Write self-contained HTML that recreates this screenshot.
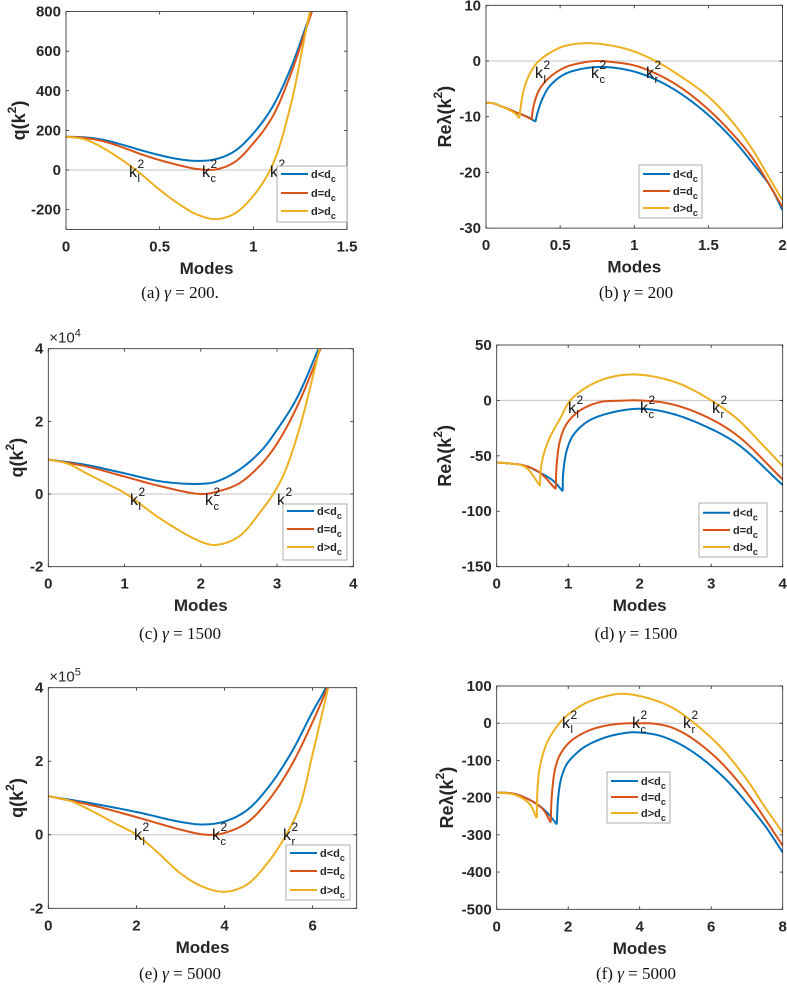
<!DOCTYPE html>
<html><head><meta charset="utf-8">
<style>
html,body{margin:0;padding:0;background:#fff;}
svg{display:block;}
</style></head>
<body>
<svg id="fig" width="787" height="985" viewBox="0 0 787 985" xmlns="http://www.w3.org/2000/svg"></svg>
<script>
// ---------- DATA ----------
// Panel (a) q(k^2), gamma=200
const aX = [0,0.1,0.2,0.3,0.4,0.5,0.6,0.7,0.8,0.9,1.0,1.1,1.2,1.3,1.35];
const aBlue = [168,165,152,128,100,75,55,46,55,95,185,315,515,775,900];
const aRed = [168,162,145,115,80,50,25,5,3,40,135,265,485,765,900];
const aYel = [168,155,110,50,-20,-100,-170,-225,-248,-220,-130,20,330,790,960];
const aYTicks = [-200,0,200,400,600,800];
const aXTicks = [0,0.5,1,1.5];
const aXTickLabels = ['0','0.5','1','1.5'];

// Panel (b) Re lambda, gamma=200
const bBlueLX = [0,0.05,0.1,0.15,0.2,0.25,0.3,0.333];
const bBlueLY = [-7.5,-7.6,-8.1,-8.6,-9.2,-9.7,-10.3,-10.9];
const bBlueRX = [0.333,0.353,0.387,0.43,0.52,0.63,0.75,0.86,1.0,1.15,1.31,1.5,1.67,1.8,1.92,2.0];
const bBlueRY = [-10.9,-8.8,-6.4,-4.5,-2.5,-1.5,-1.08,-1.2,-1.9,-3.4,-5.8,-9.7,-14.2,-18.4,-22.6,-26.8];
const bRedLX = [0,0.05,0.1,0.15,0.2,0.25,0.308];
const bRedLY = [-7.5,-7.6,-8.1,-8.6,-9.2,-9.7,-10.5];
const bRedRX = [0.308,0.32,0.353,0.41,0.52,0.63,0.75,0.86,1.0,1.15,1.31,1.5,1.67,1.8,2.0];
const bRedRY = [-10.5,-8.2,-5.5,-3.4,-1.3,-0.4,0,-0.2,-0.8,-2.3,-4.7,-8.7,-13.3,-17.5,-26.2];
const bYelLX = [0,0.05,0.1,0.15,0.2,0.225];
const bYelLY = [-7.5,-7.6,-8.1,-8.7,-9.5,-10.3];
const bYelRX = [0.225,0.234,0.252,0.286,0.342,0.41,0.52,0.68,0.86,1.0,1.15,1.31,1.5,1.67,1.8,1.9,2.0];
const bYelRY = [-10.3,-8.2,-5.5,-2.8,-0.4,1.1,2.6,3.2,2.7,1.7,-0.1,-2.7,-6.4,-11.2,-16.0,-20.5,-25.0];
const bYTicks = [-30,-20,-10,0,10];
const bXTicks = [0,0.5,1,1.5,2];
const bXTickLabels = ['0','0.5','1','1.5','2'];

// Panel (c) q(k^2) x1e4, gamma=1500
const cX = [0,0.5,1.0,1.5,2.0,2.2,2.5,2.8,3.0,3.25,3.5,3.6];
const cBlue = [0.95,0.80,0.57,0.34,0.28,0.34,0.66,1.21,1.77,2.6,3.78,4.3];
const cRed = [0.95,0.76,0.48,0.2,0,0.06,0.29,0.84,1.39,2.35,3.6,4.2];
const cYelX = [0,0.25,0.5,0.8,1.0,1.5,2.0,2.2,2.5,2.8,2.95,3.1,3.3,3.5,3.6];
const cYel = [0.95,0.84,0.57,0.25,0.03,-0.72,-1.31,-1.40,-1.17,-0.44,0,0.6,1.85,3.5,4.4];
const cYTicks = [-2,0,2,4];
const cXTicks = [0,1,2,3,4];
const cXTickLabels = ['0','1','2','3','4'];

// Panel (d) Re lambda, gamma=1500
const dBlueLX = [0,0.2,0.4,0.6,0.8,0.923];
const dBlueLY = [-56,-57,-59,-65,-73,-82];
const dBlueRX = [0.923,0.93,0.98,1.07,1.26,1.54,2.0,2.42,2.89,3.36,4.0];
const dBlueRY = [-82,-66,-45,-31.4,-19.5,-12,-7.5,-11.4,-22.5,-39,-76.3];
const dRedLX = [0,0.2,0.4,0.6,0.825];
const dRedLY = [-56,-57,-59,-65,-80];
const dRedRX = [0.825,0.84,0.886,0.98,1.165,1.445,1.72,2.0,2.42,2.89,3.36,4.0];
const dRedRY = [-80,-57,-36,-21,-9,-1.5,-0.3,0,-3,-13.5,-31.4,-71.3];
const dYelLX = [0,0.2,0.4,0.606];
const dYelLY = [-56,-57,-60,-77];
const dYelRX = [0.606,0.615,0.66,0.746,0.886,1.03,1.26,1.54,1.86,2.19,2.56,3.0,3.36,3.68,4.0];
const dYelRY = [-77,-63,-48,-33,-16.5,0,12,20,23.4,21.6,15,0,-16.5,-37.4,-59.3];
const dYTicks = [-150,-100,-50,0,50];
const dXTicks = [0,1,2,3,4];
const dXTickLabels = ['0','1','2','3','4'];

// Panel (e) q(k^2) x1e5, gamma=5000
const eX = [0,1,2,3,3.5,4,4.5,5,5.5,6,6.3,6.5];
const eBlue = [1.05,0.85,0.62,0.35,0.28,0.36,0.66,1.3,2.2,3.35,4.0,4.6];
const eRedX = [0,1,2,3,3.5,3.75,4,4.5,5,5.5,6,6.33,6.5];
const eRed = [1.05,0.8,0.48,0.14,0.01,0,0.05,0.32,0.94,1.85,3.07,4.0,4.6];
const eYelX = [0,0.5,1,1.5,2,2.5,3,3.5,4,4.5,5,5.4,5.7,6,6.35,6.5];
const eYel = [1.05,0.92,0.64,0.32,0,-0.5,-1.05,-1.41,-1.55,-1.36,-0.73,0,0.75,2.2,4.0,4.8];
const eYTicks = [-2,0,2,4];
const eXTicks = [0,2,4,6];
const eXTickLabels = ['0','2','4','6'];

// Panel (f) Re lambda, gamma=5000
const fBlueLX = [0,0.5,1,1.3,1.5,1.68];
const fBlueLY = [-186,-190,-210,-230,-250,-272];
const fBlueRX = [1.68,1.72,1.8,1.96,2.24,2.52,3.08,3.7,4.0,4.5,5.0,5.5,6.0,6.5,7.0,7.5,8.0];
const fBlueRY = [-272,-200,-150,-110,-80,-60,-37,-25,-25,-32,-50,-78,-115,-160,-215,-275,-347];
const fRedLX = [0,0.5,1,1.3,1.51];
const fRedLY = [-186,-190,-210,-232,-267];
const fRedRX = [1.51,1.54,1.63,1.77,2.05,2.52,2.98,3.45,3.98,4.38,4.85,5.31,5.78,6.25,6.71,7.18,8.0];
const fRedRY = [-267,-197,-125,-85,-50,-22,-8,-1.5,0,-1,-10,-31,-63,-103,-152,-211,-329];
const fYelLX = [0,0.5,0.9,1.12];
const fYelLY = [-186,-192,-215,-255];
const fYelRX = [1.12,1.14,1.21,1.4,1.68,1.96,2.52,3.08,3.45,4.0,4.85,5.5,6.25,7.0,7.5,8.0];
const fYelRY = [-255,-179,-116,-54,-9,20,55.5,73,79,73,45,2,-63,-152,-225,-294];
const fYTicks = [-500,-400,-300,-200,-100,0,100];
const fXTicks = [0,2,4,6,8];
const fXTickLabels = ['0','2','4','6','8'];

const seriesNames = ['d<d','d=d','d>d'];

// ---------- RENDERING ----------
const NS = 'http://www.w3.org/2000/svg';
const svg = document.getElementById('fig');
const COLORS = ['#0072BD','#D95319','#EDB120'];
const SANS = '"Liberation Sans", Arial, sans-serif';
const SERIF = '"Liberation Serif", "Times New Roman", serif';

function el(tag, attrs, parent) {
  const e = document.createElementNS(NS, tag);
  for (const k in attrs) e.setAttribute(k, attrs[k]);
  (parent || svg).appendChild(e);
  return e;
}

// centripetal Catmull-Rom in pixel space (no overshoot loops)
function crPath(xs, ys, sx, sy) {
  const P = xs.map((x, i) => [sx(x), sy(ys[i])]);
  const n = P.length;
  if (n < 3) return 'M' + P.map(p => p[0] + ',' + p[1]).join(' L');
  const ext = [[2*P[0][0]-P[1][0], 2*P[0][1]-P[1][1]]].concat(P, [[2*P[n-1][0]-P[n-2][0], 2*P[n-1][1]-P[n-2][1]]]);
  let out = 'M' + P[0][0].toFixed(2) + ',' + P[0][1].toFixed(2);
  const dist = (a, b) => Math.max(1e-4, Math.pow(Math.hypot(b[0]-a[0], b[1]-a[1]), 0.5));
  for (let i = 1; i < ext.length - 2; i++) {
    const p0 = ext[i-1], p1 = ext[i], p2 = ext[i+1], p3 = ext[i+2];
    const t0 = 0, t1 = t0 + dist(p0, p1), t2 = t1 + dist(p1, p2), t3 = t2 + dist(p2, p3);
    const steps = 14;
    for (let s = 1; s <= steps; s++) {
      const t = t1 + (t2 - t1) * s / steps;
      const pt = [0, 1].map(k => {
        const A1 = (t1-t)/(t1-t0)*p0[k] + (t-t0)/(t1-t0)*p1[k];
        const A2 = (t2-t)/(t2-t1)*p1[k] + (t-t1)/(t2-t1)*p2[k];
        const A3 = (t3-t)/(t3-t2)*p2[k] + (t-t2)/(t3-t2)*p3[k];
        const B1 = (t2-t)/(t2-t0)*A1 + (t-t0)/(t2-t0)*A2;
        const B2 = (t3-t)/(t3-t1)*A2 + (t-t1)/(t3-t1)*A3;
        return (t2-t)/(t2-t1)*B1 + (t-t1)/(t2-t1)*B2;
      });
      out += ' L' + pt[0].toFixed(2) + ',' + pt[1].toFixed(2);
    }
  }
  return out;
}

let clipId = 0;
function panel(cfg) {
  const g = el('g', {});
  
  
  const L = cfg.box[0], T = cfg.box[1], R = cfg.box[2], B = cfg.box[3];
  const sx = v => L + (v - cfg.xr[0]) / (cfg.xr[1] - cfg.xr[0]) * (R - L);
  const sy = v => B - (v - cfg.yr[0]) / (cfg.yr[1] - cfg.yr[0]) * (B - T);
  const cid = 'clip' + (clipId++);
  const cp = el('clipPath', {id: cid}, g);
  el('rect', {x: L, y: T, width: R - L, height: B - T}, cp);

  const zl = el('line', {x1: L, x2: R, y1: sy(0), y2: sy(0), stroke: '#c4c4c4', 'stroke-width': 1}, g);
  
  

  const cg = el('g', {'clip-path': 'url(#' + cid + ')'}, g);
  cfg.series.forEach((s, si) => {
    s.branches.forEach(br => {
      const p = el('path', {d: crPath(br[0], br[1], sx, sy), fill: 'none', stroke: COLORS[si], 'stroke-width': 2, 'stroke-linejoin': 'round'}, cg);
      
      
    });
  });

  const bx = el('rect', {x: L, y: T, width: R - L, height: B - T, fill: 'none', stroke: '#262626', 'stroke-width': 0.8}, g);
  
  

  cfg.xticks.forEach((v, i) => {
    const x = sx(v);
    el('line', {x1: x, x2: x, y1: B, y2: B - 3, stroke: '#262626', 'stroke-width': 0.8}, g);
    el('line', {x1: x, x2: x, y1: T, y2: T + 3, stroke: '#262626', 'stroke-width': 0.8}, g);
    const t = el('text', {x: x, y: B + 18, 'text-anchor': 'middle', 'dominant-baseline': 'middle', 'font-family': SANS, 'font-weight': 'bold', 'font-size': 15, fill: '#262626'}, g);
    t.textContent = cfg.xtickLabels[i];
    
    
  });
  cfg.yticks.forEach(v => {
    const y = sy(v);
    el('line', {x1: L, x2: L + 3, y1: y, y2: y, stroke: '#262626', 'stroke-width': 0.8}, g);
    el('line', {x1: R, x2: R - 3, y1: y, y2: y, stroke: '#262626', 'stroke-width': 0.8}, g);
    const t = el('text', {x: L - 5, y: y + 1, 'text-anchor': 'end', 'dominant-baseline': 'middle', 'font-family': SANS, 'font-weight': 'bold', 'font-size': 15, fill: '#262626'}, g);
    t.textContent = String(v);
    
    
  });

  if (cfg.exponent) {
    const t = el('text', {x: L + 1, y: T - 6, 'font-family': SANS, 'font-size': 15, fill: '#262626'}, g);
    
    
    const a = el('tspan', {}, t); a.textContent = '×10';
    const b = el('tspan', {dy: -6, 'font-size': 11}, t); b.textContent = cfg.exponent;
  }

  const xl = el('text', {x: (L + R) / 2, y: B + 40, 'text-anchor': 'middle', 'dominant-baseline': 'middle', 'font-family': SANS, 'font-weight': 'bold', 'font-size': 17, fill: '#262626'}, g);
  xl.textContent = 'Modes';
  
  
  const yl = el('text', {x: 0, y: 0, 'text-anchor': 'middle', 'dominant-baseline': 'middle', 'font-family': SANS, 'font-weight': 'bold', 'font-size': 18, fill: '#262626', transform: 'translate(' + cfg.ylabelX + ',' + ((T + B) / 2) + ') rotate(-90)'}, g);
  
  
  const y1 = el('tspan', {}, yl); y1.textContent = cfg.ylabel + '(k';
  const y2 = el('tspan', {dy: -7, 'font-size': 12}, yl); y2.textContent = '2';
  const y3 = el('tspan', {dy: 7}, yl); y3.textContent = ')';

  cfg.klabels.forEach(k => {
    const kg = el('g', {}, g);
    
    
    const a = el('text', {x: k[0], y: k[1], 'font-family': SANS, 'font-size': 16, fill: '#111'}, kg); a.textContent = 'k';
    const b = el('text', {x: k[0] + 8.5, y: k[1] - 9, 'font-family': SANS, 'font-size': 12, fill: '#111'}, kg); b.textContent = '2';
    const c = el('text', {x: k[0] + 8.5, y: k[1] + 5, 'font-family': SANS, 'font-size': 11, fill: '#111'}, kg); c.textContent = k[2];
  });

  const lg = el('g', {}, g);
  
  
  const lb = cfg.legend;
  el('rect', {x: lb[0], y: lb[1], width: lb[2] - lb[0], height: lb[3] - lb[1], fill: '#fff', stroke: '#999', 'stroke-width': 0.8}, lg);
  const ys = lb[4];
  seriesNames.forEach((nm, i) => {
    const eg = el('g', {}, lg);
    
    
    el('line', {x1: lb[0] + 4, x2: lb[0] + 31, y1: ys[i], y2: ys[i], stroke: COLORS[i], 'stroke-width': 2}, eg);
    const t = el('text', {x: lb[0] + 34, y: ys[i] + 4, 'font-family': SANS, 'font-weight': 'bold', 'font-size': 11, fill: '#262626'}, eg);
    const a = el('tspan', {}, t); a.textContent = nm;
    const b = el('tspan', {dy: 4, 'font-size': 9}, t); b.textContent = 'c';
  });

  const cap = el('text', {x: cfg.capX, y: cfg.capY, 'text-anchor': 'middle', 'dominant-baseline': 'middle', 'font-family': SERIF, 'font-size': 17, fill: '#111'}, g);
  
  
  const c1 = el('tspan', {}, cap); c1.textContent = cfg.caption[0] + ' ';
  const c2 = el('tspan', {'font-style': 'italic'}, cap); c2.textContent = 'γ';
  const c3 = el('tspan', {}, cap); c3.textContent = ' = ' + cfg.caption[1];
}

panel({name: 'panel-a', box: [66, 11.6, 347, 229.4], xr: [0, 1.5], yr: [-300, 800],
  xticks: aXTicks, xtickLabels: aXTickLabels, yticks: aYTicks, ylabel: 'q', ylabelX: 20,
  series: [{branches: [[aX, aBlue]]}, {branches: [[aX, aRed]]}, {branches: [[aX, aYel]]}],
  klabels: [[129, 177, 'l'], [202, 177, 'c'], [270, 177, 'r']],
  legend: [277, 166, 347, 222, [174, 193, 211]],
  capX: 180, capY: 294, caption: ['(a)', '200.']});

panel({name: 'panel-b', box: [486, 5.3, 782.5, 228.1], xr: [0, 2], yr: [-30, 10],
  xticks: bXTicks, xtickLabels: bXTickLabels, yticks: bYTicks, ylabel: 'Reλ', ylabelX: 446,
  series: [{branches: [[bBlueLX, bBlueLY], [bBlueRX, bBlueRY]]},
           {branches: [[bRedLX, bRedLY], [bRedRX, bRedRY]]},
           {branches: [[bYelLX, bYelLY], [bYelRX, bYelRY]]}],
  klabels: [[535, 78, 'l'], [591, 78, 'c'], [646, 78, 'r']],
  legend: [639, 165, 702, 218, [174, 191, 208]],
  capX: 636, capY: 294, caption: ['(b)', '200']});

panel({name: 'panel-c', box: [48.3, 348.7, 353.3, 566.7], xr: [0, 4], yr: [-2, 4],
  xticks: cXTicks, xtickLabels: cXTickLabels, yticks: cYTicks, ylabel: 'q', ylabelX: 18, exponent: '4',
  series: [{branches: [[cX, cBlue]]}, {branches: [[cX, cRed]]}, {branches: [[cYelX, cYel]]}],
  klabels: [[130, 505, 'l'], [205, 505, 'c'], [277, 505, 'r']],
  legend: [283, 504, 347, 560, [511, 529, 547]],
  capX: 180, capY: 635, caption: ['(c)', '1500']});

panel({name: 'panel-d', box: [496.7, 345, 782.7, 566.7], xr: [0, 4], yr: [-150, 50],
  xticks: dXTicks, xtickLabels: dXTickLabels, yticks: dYTicks, ylabel: 'Reλ', ylabelX: 446,
  series: [{branches: [[dBlueLX, dBlueLY], [dBlueRX, dBlueRY]]},
           {branches: [[dRedLX, dRedLY], [dRedRX, dRedRY]]},
           {branches: [[dYelLX, dYelLY], [dYelRX, dYelRY]]}],
  klabels: [[568, 413, 'l'], [640, 413, 'c'], [712, 413, 'r']],
  legend: [699, 503, 767, 557, [512.7, 530, 547]],
  capX: 636, capY: 635, caption: ['(d)', '1500']});

panel({name: 'panel-e', box: [48.3, 687.7, 356.7, 908.3], xr: [0, 7], yr: [-2, 4],
  xticks: eXTicks, xtickLabels: eXTickLabels, yticks: eYTicks, ylabel: 'q', ylabelX: 18, exponent: '5',
  series: [{branches: [[eX, eBlue]]}, {branches: [[eRedX, eRed]]}, {branches: [[eYelX, eYel]]}],
  klabels: [[134, 840, 'l'], [212, 840, 'c'], [283, 840, 'r']],
  legend: [286, 845, 350, 900, [853, 871, 890]],
  capX: 180, capY: 975, caption: ['(e)', '5000']});

panel({name: 'panel-f', box: [496.7, 686, 782.7, 909.3], xr: [0, 8], yr: [-500, 100],
  xticks: fXTicks, xtickLabels: fXTickLabels, yticks: fYTicks, ylabel: 'Reλ', ylabelX: 448,
  series: [{branches: [[fBlueLX, fBlueLY], [fBlueRX, fBlueRY]]},
           {branches: [[fRedLX, fRedLY], [fRedRX, fRedRY]]},
           {branches: [[fYelLX, fYelLY], [fYelRX, fYelRY]]}],
  klabels: [[562, 728, 'l'], [632, 728, 'c'], [683, 728, 'r']],
  legend: [607, 772, 670, 823, [781, 797, 813]],
  capX: 636, capY: 975, caption: ['(f)', '5000']});
</script>
</body></html>
